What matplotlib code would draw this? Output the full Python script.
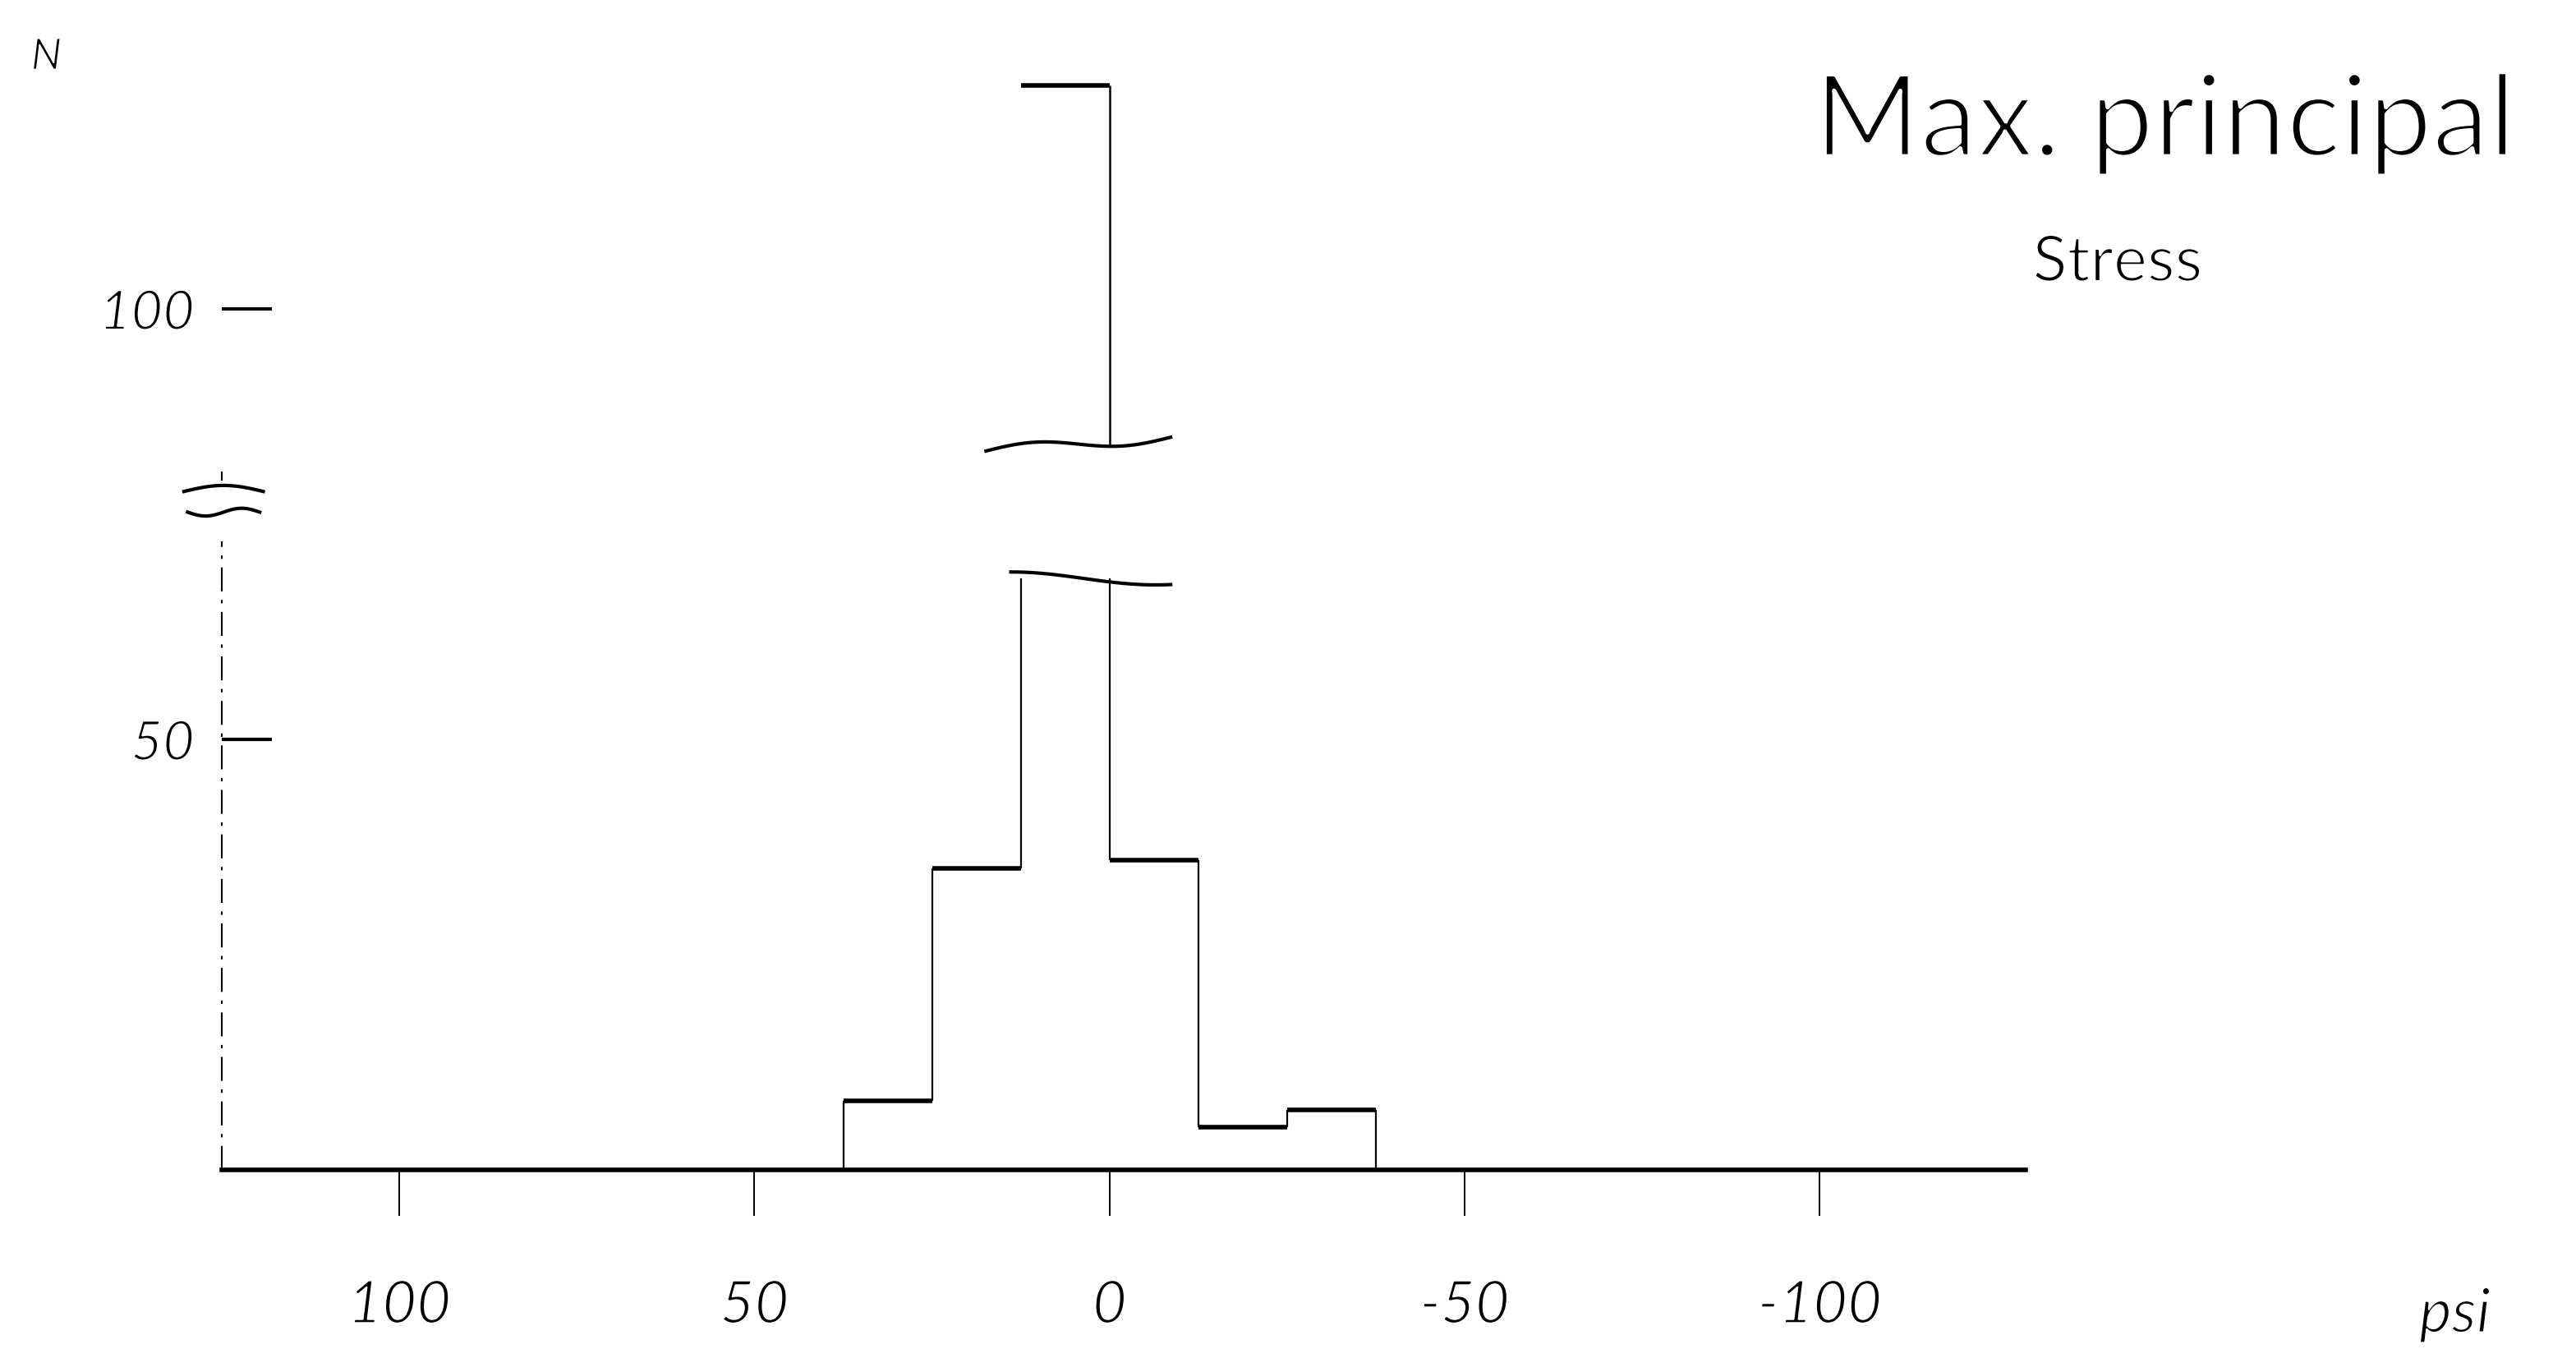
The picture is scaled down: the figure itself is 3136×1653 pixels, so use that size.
import numpy as np
import matplotlib
matplotlib.use("Agg")
import matplotlib.pyplot as plt
import matplotlib.patheffects as pe

# ---------------- data ----------------
bin_edges = [37.5, 25.0, 12.5, 0.0, -12.5, -25.0, -37.5]   # psi
counts = [8, 35, 126, 36, 5, 7]                            # N per bin
x_ticks = [100, 50, 0, -50, -100]
x_tick_labels = ["100", "50", "0", "-50", "-100"]
y_ticks = [50, 100]
y_tick_labels = ["50", "100"]
x_limits = [125, -129]
y_limits = [0, 130]

# broken-bar / broken-axis decorations (in N units)
bar_break_low = 68.7
bar_break_high = 84.3
axis_top = 73
axis_break_low = 76.4
axis_break_high = 78.8
axis_dot = 80.6

title_line1 = "Max. principal"
title_line2 = "Stress"
x_unit = "psi"
y_unit = "N"

FONT = ["Lato", "DejaVu Sans"]
TXT = dict(family=FONT, color="black", fontweight="normal")


def thin(w):
    # erode glyph edges a little so the lettering looks like thin pen strokes
    return [pe.Stroke(linewidth=w, foreground="white")]


fig = plt.figure(figsize=(31.36, 16.53), dpi=100)
ax = fig.add_axes([0.0861, 0.1385, 0.7003, 0.8242])
ax.set_xlim(*x_limits)
ax.set_ylim(*y_limits)

# ---------------- histogram outline ----------------
edges = np.array(bin_edges)
cnt = np.array(counts, dtype=float)
imax = int(np.argmax(cnt))
ax.hlines(cnt, edges[:-1], edges[1:], colors="black", lw=4.0, zorder=3)

padded = np.concatenate([[0.0], cnt, [0.0]])
for i, xe in enumerate(edges):
    lo = min(padded[i], padded[i + 1])
    hi = max(padded[i], padded[i + 1])
    touches_max = (i == imax) or (i == imax + 1)
    if touches_max:
        ax.vlines(xe, lo, bar_break_low, colors="black", lw=1.6, zorder=3)
        if i == imax + 1:  # only the right side is drawn above the break
            ax.vlines(xe, bar_break_high, hi, colors="black", lw=1.8, zorder=3)
    else:
        ax.vlines(xe, lo, hi, colors="black", lw=1.6, zorder=3)

# wavy break lines across the tall bar
t = np.linspace(0, 1, 80)
xa = np.linspace(edges[imax] + 1.4, edges[imax + 1] - 8.6, 80)
ax.plot(xa, bar_break_low + 0.75 * np.cos(np.pi * t * 1.1), color="black", lw=3.0)
xb = np.linspace(edges[imax] + 4.9, edges[imax + 1] - 8.6, 80)
ax.plot(xb, bar_break_high + 0.8 * (2 * t - 1) + 0.6 * np.sin(2 * np.pi * t),
        color="black", lw=3.0)

# ---------------- axes ----------------
for s in ["top", "right", "left"]:
    ax.spines[s].set_visible(False)
ax.spines["bottom"].set_linewidth(4.0)

ytr = ax.get_yaxis_transform()
ax.plot([0, 0], [0, axis_top], transform=ytr, color="black", lw=1.5,
        linestyle=(0, (14, 5, 2, 5)), clip_on=False)
ax.plot([0, 0], [axis_dot - 0.4, axis_dot + 0.4], transform=ytr, color="black",
        lw=1.5, clip_on=False)
tb = np.linspace(0, 1, 60)
ax.plot(-0.021 + 0.044 * tb, axis_break_high + 0.7 * np.sin(np.pi * tb),
        transform=ytr, color="black", lw=3.0, clip_on=False)
ax.plot(-0.019 + 0.040 * tb, axis_break_low - 0.45 * np.sin(2 * np.pi * tb),
        transform=ytr, color="black", lw=3.0, clip_on=False)

ax.set_xticks(x_ticks)
ax.set_xticklabels(x_tick_labels, fontsize=52, fontstyle="italic", **TXT)
ax.tick_params(axis="x", direction="out", length=40, width=1.4, pad=56)

ax.set_yticks(y_ticks)
ax.set_yticklabels(y_tick_labels, fontsize=48, fontstyle="italic", **TXT)
ax.tick_params(axis="y", direction="in", length=44, width=3.0, pad=24)

for lab in ax.get_xticklabels() + ax.get_yticklabels():
    lab.set_path_effects(thin(1.6))

# ---------------- texts ----------------
fig.text(0.018, 0.958, y_unit, fontsize=38, fontstyle="italic",
         ha="center", va="center", path_effects=thin(1.2), **TXT)
fig.text(0.953, 0.032, x_unit, fontsize=54, fontstyle="italic",
         ha="center", va="center", path_effects=thin(1.6), **TXT)
fig.text(0.8405, 0.885, title_line1, fontsize=100, ha="center", va="baseline",
         path_effects=thin(3.6), **TXT)
fig.text(0.822, 0.793, title_line2, fontsize=56, ha="center", va="baseline",
         path_effects=thin(1.8), **TXT)

fig.savefig("out.png", dpi=100, facecolor="white")
